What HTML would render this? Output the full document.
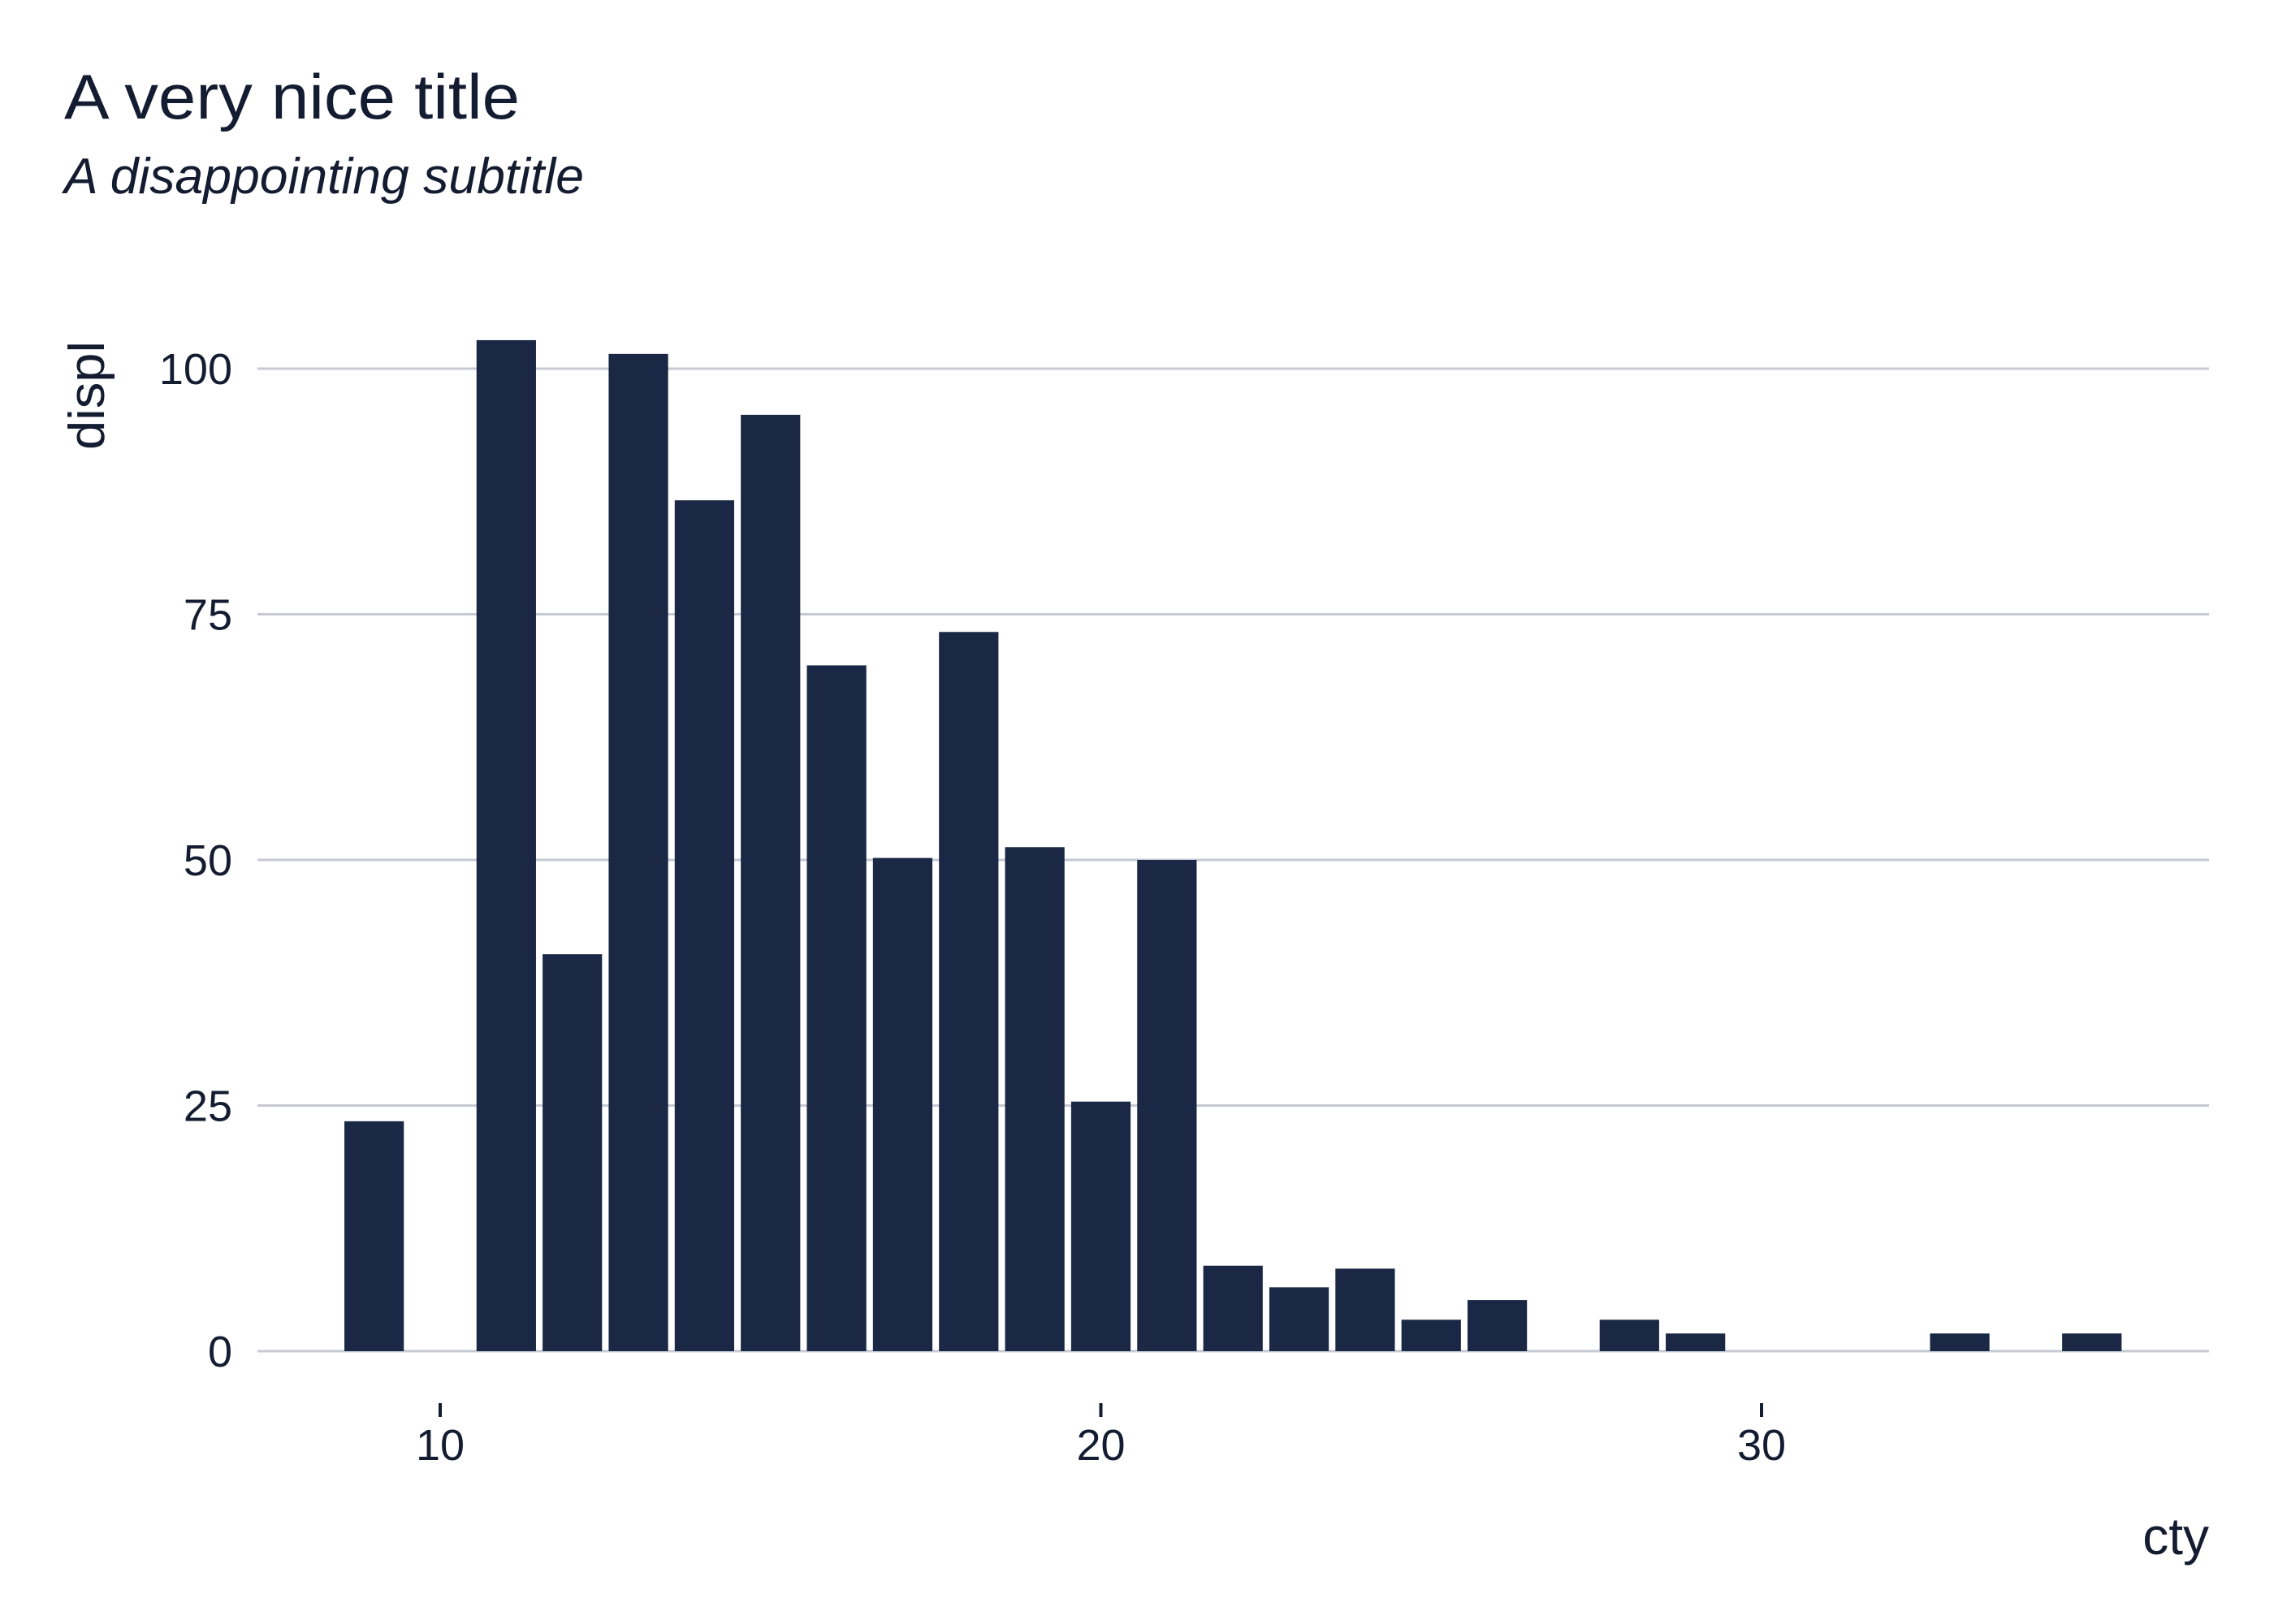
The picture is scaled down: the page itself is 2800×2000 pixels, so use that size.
<!DOCTYPE html>
<html><head><meta charset="utf-8"><style>
html,body{margin:0;padding:0;background:#fff;}
svg{display:block;font-family:"Liberation Sans",sans-serif;}
</style></head><body>
<svg id="chart" width="2800" height="2000" viewBox="0 0 2800 2000" xmlns="http://www.w3.org/2000/svg">
<rect width="2800" height="2000" fill="#fff"/>
<text x="79" y="146" font-size="78" fill="#131c30" textLength="561" lengthAdjust="spacingAndGlyphs">A very nice title</text>
<text x="79" y="238" font-size="62" font-style="italic" fill="#131c30" textLength="640" lengthAdjust="spacingAndGlyphs">A disappointing subtitle</text>
<g id="grid"></g>
<g id="yticks"></g>
<g id="xticks"></g>
<g id="bars"></g>
<text transform="translate(128,420) rotate(-90)" text-anchor="end" font-size="62" fill="#131c30" textLength="134" lengthAdjust="spacingAndGlyphs">displ</text>
<text x="2720" y="1914" text-anchor="end" font-size="64" fill="#131c30">cty</text>
</svg>
<script>
const categories = [9, 11, 12, 13, 14, 15, 16, 17, 18, 19, 20, 21, 22, 23, 24, 25, 26, 28, 29, 33, 35];
const values = [23.4, 102.9, 40.4, 101.5, 86.6, 95.3, 69.8, 50.2, 73.2, 51.3, 25.4, 50.0, 8.7, 6.5, 8.4, 3.2, 5.2, 3.2, 1.8, 1.8, 1.8];
const yTicks = [0, 25, 50, 75, 100];
const xTicks = [10, 20, 30];

const NS = "http://www.w3.org/2000/svg";
function xScale(v){ return 542 + (v - 10) * 81.35; }
function yScale(v){ return 1664 - v * (1664 - 454) / 100; }
const barW = 0.9 * 81.35;

const grid = document.getElementById('grid');
const yt = document.getElementById('yticks');
yTicks.forEach(t => {
  const l = document.createElementNS(NS, 'line');
  
  
  l.setAttribute('x1', 317); l.setAttribute('x2', 2720);
  l.setAttribute('y1', yScale(t)); l.setAttribute('y2', yScale(t));
  l.setAttribute('stroke', '#c5cad3'); l.setAttribute('stroke-width', 3);
  grid.appendChild(l);
  const tx = document.createElementNS(NS, 'text');
  
  
  tx.setAttribute('x', 286); tx.setAttribute('y', yScale(t) + 19);
  tx.setAttribute('text-anchor', 'end'); tx.setAttribute('font-size', 54);
  tx.setAttribute('fill', '#131c30');
  tx.textContent = t;
  yt.appendChild(tx);
});
const xt = document.getElementById('xticks');
xTicks.forEach(t => {
  const l = document.createElementNS(NS, 'line');
  
  
  l.setAttribute('x1', xScale(t)); l.setAttribute('x2', xScale(t));
  l.setAttribute('y1', 1728); l.setAttribute('y2', 1745);
  l.setAttribute('stroke', '#131c30'); l.setAttribute('stroke-width', 4);
  xt.appendChild(l);
  const tx = document.createElementNS(NS, 'text');
  
  
  tx.setAttribute('x', xScale(t)); tx.setAttribute('y', 1798);
  tx.setAttribute('text-anchor', 'middle'); tx.setAttribute('font-size', 54);
  tx.setAttribute('fill', '#131c30');
  tx.textContent = t;
  xt.appendChild(tx);
});
const bars = document.getElementById('bars');
categories.forEach((c, i) => {
  const r = document.createElementNS(NS, 'rect');
  
  
  r.setAttribute('x', xScale(c) - barW / 2);
  r.setAttribute('width', barW);
  r.setAttribute('y', yScale(values[i]));
  r.setAttribute('height', yScale(0) - yScale(values[i]));
  r.setAttribute('fill', '#1a2745');
  bars.appendChild(r);
});
</script>
</body></html>
